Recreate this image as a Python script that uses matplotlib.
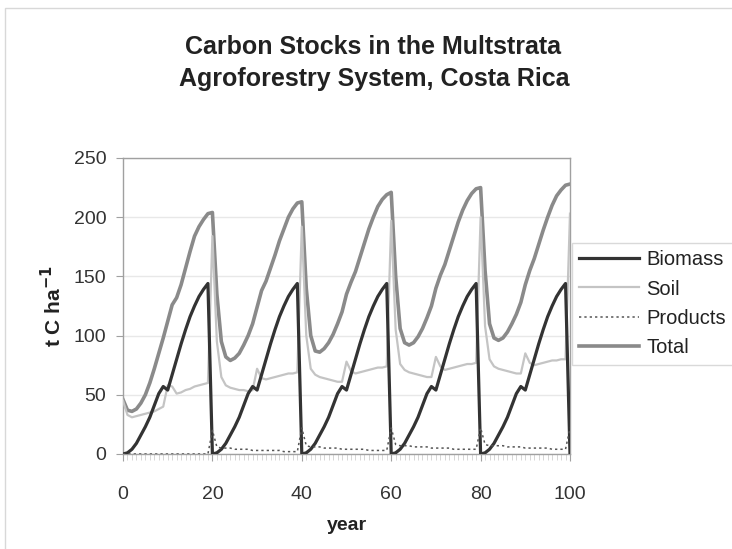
import matplotlib
matplotlib.use("Agg")
import matplotlib.pyplot as plt
from matplotlib.patches import Rectangle

plt.rcParams['font.family'] = ['Liberation Sans', 'DejaVu Sans']

years = list(range(0, 101))

biomass = [
    0, 1, 4, 9, 16, 23, 31, 41, 51, 57, 54, 67, 80, 93, 105, 116, 125, 133, 139, 144,
    0, 1, 4, 9, 16, 23, 31, 41, 51, 57, 54, 67, 80, 93, 105, 116, 125, 133, 139, 144,
    0, 1, 4, 9, 16, 23, 31, 41, 51, 57, 54, 67, 80, 93, 105, 116, 125, 133, 139, 144,
    0, 1, 4, 9, 16, 23, 31, 41, 51, 57, 54, 67, 80, 93, 105, 116, 125, 133, 139, 144,
    0, 1, 4, 9, 16, 23, 31, 41, 51, 57, 54, 67, 80, 93, 105, 116, 125, 133, 139, 144,
    0,
]

soil = [
    45, 33, 31, 32, 33, 34, 35, 36, 38, 40, 58, 57, 51, 52, 54, 55, 57, 58, 59, 60,
    184, 95, 65, 58, 56, 55, 54, 54, 53, 54, 72, 64, 63, 64, 65, 66, 67, 68, 68, 69,
    192, 100, 72, 67, 65, 64, 63, 62, 61, 61, 78, 70, 68, 69, 70, 71, 72, 73, 73, 74,
    197, 105, 76, 71, 69, 68, 67, 66, 65, 65, 82, 74, 71, 72, 73, 74, 75, 76, 76, 77,
    200, 108, 80, 74, 72, 71, 70, 69, 68, 68, 85, 77, 75, 76, 77, 78, 79, 79, 80, 80,
    203,
]

products = [
    0, 0, 0, 0, 0, 0, 0, 0, 0, 0, 0, 0, 0, 0, 0, 0, 0, 0, 0, 0,
    20, 6, 5, 5, 5, 4, 4, 4, 4, 3, 3, 3, 3, 3, 3, 3, 2, 2, 2, 2,
    22, 7, 6, 6, 6, 5, 5, 5, 5, 4, 4, 4, 4, 4, 4, 3, 3, 3, 3, 3,
    22, 8, 7, 7, 7, 6, 6, 6, 6, 5, 5, 5, 5, 5, 4, 4, 4, 4, 4, 4,
    22, 8, 7, 7, 7, 7, 6, 6, 6, 6, 5, 5, 5, 5, 5, 5, 4, 4, 4, 4,
    22,
]

total = [
    46, 37, 36, 38, 43, 50, 60, 72, 85, 98, 112, 126, 132, 143, 157, 171, 184, 192, 198, 203,
    204, 135, 95, 82, 79, 81, 85, 92, 100, 110, 124, 138, 146, 157, 168, 180, 190, 200, 207, 212,
    213, 140, 100, 87, 86, 89, 94, 101, 110, 120, 135, 145, 154, 166, 178, 190, 200, 209, 215, 219,
    221, 150, 106, 94, 92, 94, 99, 106, 115, 125, 140, 151, 160, 172, 184, 196, 206, 214, 220, 224,
    225, 155, 110, 98, 96, 98, 103, 110, 118, 128, 143, 155, 165, 177, 189, 200, 210, 218, 223, 227,
    228,
]

series_labels = ["Biomass", "Soil", "Products", "Total"]
x_ticks = [0, 20, 40, 60, 80, 100]
y_ticks = [0, 50, 100, 150, 200, 250]

fig = plt.figure(figsize=(7.32, 5.49), dpi=100)
fig.patches.append(Rectangle((5 / 732, -0.01), 1.0, 1 - 8 / 549 + 0.01,
                             transform=fig.transFigure, fill=False,
                             edgecolor='#d8d8d8', linewidth=1.0, zorder=0))

ax = fig.add_axes([123 / 732, 1 - 454 / 549, (570 - 123) / 732, (454 - 158) / 549])

ax.plot(years, biomass, color='#333333', lw=2.3, label=series_labels[0], zorder=4)
ax.plot(years, soil, color='#c4c4c4', lw=1.6, label=series_labels[1], zorder=3)
ax.plot(years, products, color='#555555', lw=1.1, ls=(0, (1.5, 2)), label=series_labels[2], zorder=5)
ax.plot(years, total, color='#8a8a8a', lw=2.6, label=series_labels[3], zorder=2)

ax.set_xlim(0, 100)
ax.set_ylim(0, 250)
ax.set_xticks(x_ticks)
ax.set_xticks(years, minor=True)
ax.set_yticks(y_ticks)
ax.yaxis.grid(True, color='#e8e8e8', lw=1.0)
ax.set_axisbelow(True)

for s in ax.spines.values():
    s.set_color('#a0a0a0')
    s.set_linewidth(1.0)

ax.tick_params(axis='both', which='major', labelsize=14, labelcolor='#333333',
               color='#a0a0a0', direction='out', length=5)
ax.tick_params(axis='x', which='minor', color='#d0d0d0', direction='out', length=4)
ax.tick_params(axis='x', which='major', pad=18)
ax.tick_params(axis='y', which='major', pad=7)

ax.set_xlabel("year", fontsize=14, fontweight='bold', color='#222222', labelpad=10)
ax.set_ylabel("t C ha$^{\\mathbf{-1}}$", fontsize=15, fontweight='bold', color='#222222', labelpad=6)

fig.text(373 / 732, 1 - 47 / 549, "Carbon Stocks in the Multstrata",
         ha='center', va='center', fontsize=18, fontweight='bold', color='#222222')
fig.text(374 / 732, 1 - 79 / 549, "Agroforestry System, Costa Rica",
         ha='center', va='center', fontsize=18, fontweight='bold', color='#222222')

leg = ax.legend(loc='upper left', bbox_to_anchor=(572 / 732, 1 - 243 / 549),
                bbox_transform=fig.transFigure, frameon=True, fontsize=14.5,
                handlelength=3.0, handletextpad=0.35, labelspacing=0.52,
                borderpad=0.35, fancybox=False, borderaxespad=0)
leg.get_frame().set_edgecolor('#d0d0d0')
leg.get_frame().set_linewidth(1.0)
for t in leg.get_texts():
    t.set_color('#222222')

fig.savefig("out.png", dpi=100)
